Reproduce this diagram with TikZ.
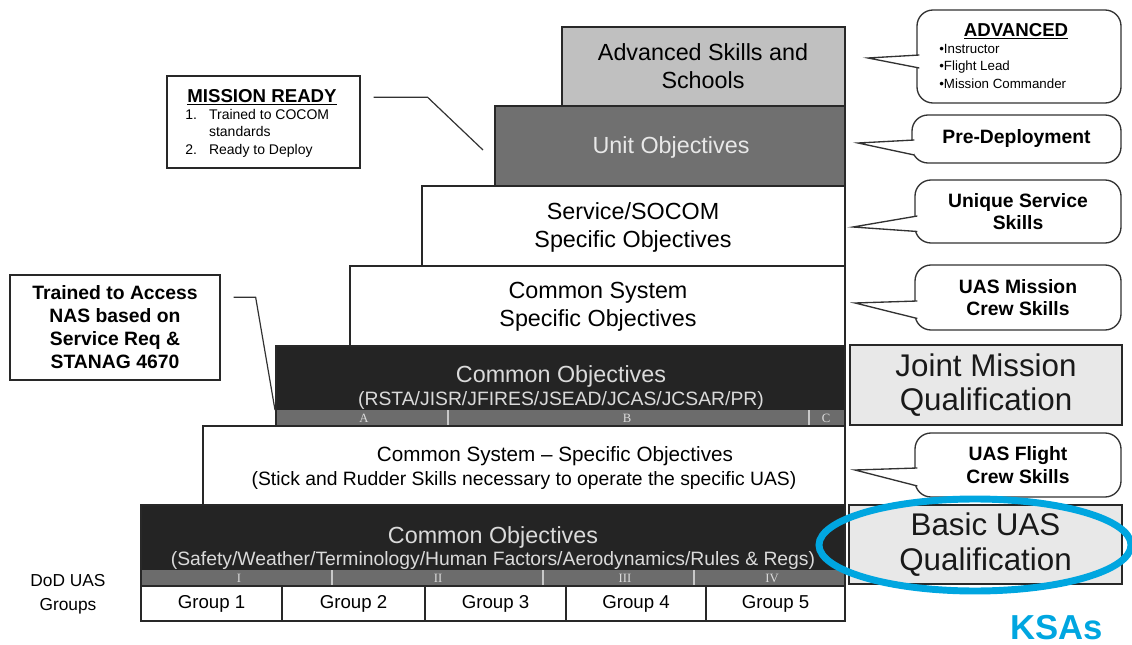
\documentclass[tikz,border=0pt]{standalone}
\usepackage{fontspec}
\setmainfont{Liberation Sans}
\newfontfamily\bandfont{Liberation Serif}
\usetikzlibrary{calc}
\definecolor{ksaBlue}{RGB}{0,166,224}

\begin{document}
\begin{tikzpicture}[x=0.75pt,y=0.75pt,yscale=-1,xscale=1,
  stepline/.style={draw={rgb, 255:red, 40; green, 40; blue, 40}, line width=1},
  darkstep/.style={stepline, fill={rgb, 255:red, 36; green, 36; blue, 36}},
  bandfill/.style={fill={rgb, 255:red, 108; green, 108; blue, 108}},
  banddiv/.style={draw={rgb, 255:red, 200; green, 200; blue, 200}, line width=0.8},
  bigtxt/.style={inner sep=0.75pt, align=center, font=\fontsize{17.5}{21}\selectfont},
  subtxt/.style={inner sep=0.75pt, font=\fontsize{14.5}{17}\selectfont},
  lighttxt/.style={text={rgb, 255:red, 218; green, 218; blue, 218}},
  bandtxt/.style={inner sep=0.75pt, text={rgb, 255:red, 220; green, 220; blue, 220}, font=\bandfont\fontsize{9.5}{10}\selectfont},
  grouptxt/.style={inner sep=0.75pt, font=\fontsize{14}{16}\selectfont},
  callbox/.style={draw={rgb, 255:red, 50; green, 50; blue, 50}, line width=1, fill=white, rounded corners=12pt, inner sep=0pt},
  calltail/.style={draw={rgb, 255:red, 50; green, 50; blue, 50}, line width=1, fill=white},
  calltxt/.style={align=center, font=\fontsize{14.5}{17}\selectfont\bfseries},
  qualbox/.style={draw={rgb, 255:red, 40; green, 40; blue, 40}, line width=1, fill={rgb, 255:red, 232; green, 232; blue, 232}, align=center, inner sep=0pt, font=\fontsize{23.5}{26}\selectfont, text={rgb, 255:red, 25; green, 25; blue, 25}},
  notebox/.style={draw={rgb, 255:red, 40; green, 40; blue, 40}, line width=1, inner sep=0pt},
  leader/.style={draw={rgb, 255:red, 50; green, 50; blue, 50}, line width=0.9}
]
\useasboundingbox (0,0) rectangle (1132,645);

%Shape: Rectangle -- advanced skills
\draw [stepline, fill={rgb, 255:red, 192; green, 192; blue, 192}] (562,27) rectangle (845,106);
%Shape: Rectangle -- unit objectives
\draw [stepline, fill={rgb, 255:red, 112; green, 112; blue, 112}] (495,106) rectangle (845,186);
%Shape: Rectangle -- service
\draw [stepline, fill=white] (422,186) rectangle (845,266);
%Shape: Rectangle -- common system
\draw [stepline, fill=white] (350,266) rectangle (845,346);
%Shape: Rectangle -- joint common objectives
\draw [darkstep] (276,346) rectangle (845,426);
\fill [bandfill] (277,410) rectangle (844,425.5);
\draw [banddiv] (448,410) -- (448,426) (809,410) -- (809,426);
%Shape: Rectangle -- stick and rudder
\draw [stepline, fill=white] (203,426) rectangle (845,505);
%Shape: Rectangle -- basic common objectives
\draw [darkstep] (141,505) rectangle (845,586);
\fill [bandfill] (142,570) rectangle (844,585.5);
\foreach \x in {332,543,694} \draw [banddiv] (\x,570) -- (\x,586);
%Shape: Rectangle -- groups
\draw [stepline, fill=white] (141,586) rectangle (845,621);
\foreach \x in {282,425,566,706} \draw [stepline] (\x,586) -- (\x,621);

% Text Node
\draw (703,66) node (advTxt) [bigtxt] {Advanced Skills and\\Schools};
% Text Node
\draw (671,147) node (unitTxt) [bigtxt, text={rgb, 255:red, 232; green, 232; blue, 232}] {Unit Objectives};
% Text Node
\draw (633,227) node (servTxt) [bigtxt] {Service/SOCOM\\Specific Objectives};
% Text Node
\draw (598,307) node (cssTxt) [bigtxt] {Common System\\Specific Objectives};
% Text Node
\draw (561,376) node (jointObj) [bigtxt, lighttxt] {Common Objectives};
\draw (561,400) node (jointSub) [subtxt, lighttxt] {(RSTA/JISR/JFIRES/JSEAD/JCAS/JCSAR/PR)};
\foreach \bx/\bn in {364/A,627/B,826/C} \draw (\bx,418) node (band\bn) [bandtxt] {\bn};
% Text Node
\draw (555,456) node (rudTxt) [bigtxt, font=\fontsize{15.5}{18}\selectfont] {Common System – Specific Objectives};
\draw (524,481) node (rudSub) [subtxt] {(Stick and Rudder Skills necessary to operate the specific UAS)};
% Text Node
\draw (493,537) node (basicObj) [bigtxt, lighttxt] {Common Objectives};
\draw (493,560) node (basicSub) [subtxt, lighttxt] {(Safety/Weather/Terminology/Human Factors/Aerodynamics/Rules \& Regs)};
\foreach \rx/\rn in {239/I,438/II,625/III,772/IV} \draw (\rx,578) node (band\rn) [bandtxt] {\rn};
% Text Node
\foreach \gx [count=\gi] in {211.5,353.5,495.5,636,775.5} \draw (\gx,604) node (grp\gi) [grouptxt] {Group \gi};
\draw (68,594) node (dodTxt) [inner sep=0.75pt, align=center, font=\fontsize{13}{18}\selectfont] {DoD UAS\\Groups};

%Callouts
\draw (1019,56.5) node (advCall) [callbox, minimum width=153pt, minimum height=69.75pt] {};
\draw [calltail] ($(advCall.west)+(3,-1.5)$) -- (868,58) -- ($(advCall.west)+(3,11.5)$);
\draw (1016,31) node (advHead) [inner sep=0.75pt, font=\fontsize{14}{16}\selectfont\bfseries] {\underline{ADVANCED}};
\draw (938,43) node (advList) [anchor=north west, inner sep=0.75pt, align=left, font=\fontsize{10}{13}\selectfont] {•Instructor\\•Flight Lead\\•Mission Commander};

\draw (1016.5,139) node (preCall) [callbox, calltxt, minimum width=156.75pt, minimum height=36pt] {Pre-Deployment};
\draw [calltail] ($(preCall.west)+(3,1)$) -- (858,143) -- ($(preCall.west)+(3,16)$);

\draw (1018,211.5) node (uniqCall) [callbox, calltxt, minimum width=154.5pt, minimum height=47.25pt] {Unique Service\\Skills};
\draw [calltail] ($(uniqCall.west)+(3,4.5)$) -- (853,227) -- ($(uniqCall.west)+(3,20)$);

\draw (1018,297.5) node (missCall) [callbox, calltxt, minimum width=154.5pt, minimum height=48.75pt] {UAS Mission\\Crew Skills};
\draw [calltail] ($(missCall.west)+(3,3.5)$) -- (855,303) -- ($(missCall.west)+(3,21)$);

\draw (1018,465) node (flightCall) [callbox, calltxt, minimum width=154.5pt, minimum height=48pt] {UAS Flight\\Crew Skills};
\draw [calltail] ($(flightCall.west)+(3,3)$) -- (855,470) -- ($(flightCall.west)+(3,21)$);

%Qualification boxes
\draw (986,385) node (jointQual) [qualbox, minimum width=204pt, minimum height=60pt] {Joint Mission\\Qualification};
\draw (985.5,544.5) node (basicQual) [qualbox, minimum width=204.75pt, minimum height=59.25pt] {Basic UAS\\Qualification};
\draw [ksaBlue, line width=5.2] (975,545) ellipse [x radius=156, y radius=46];
\draw (1057,628) node (ksaTxt) [inner sep=0.75pt, text=ksaBlue, font=\fontsize{26}{30}\selectfont\bfseries] {KSAs};

%Note boxes
\draw (263.5,122) node (missionBox) [notebox, minimum width=144.75pt, minimum height=69pt] {};
\draw (262,97) node (missionHead) [inner sep=0.75pt, font=\fontsize{14}{16}\selectfont\bfseries] {\underline{MISSION READY}};
\draw (184,108) node (missionList) [anchor=north west, inner sep=0.75pt, align=left, font=\fontsize{10.5}{13}\selectfont] {\makebox[1.7em][l]{1.}Trained to COCOM\\\hspace*{1.7em}standards\\\makebox[1.7em][l]{2.}Ready to Deploy};

\draw (115,327.5) node (nasBox) [notebox, minimum width=157.5pt, minimum height=78.75pt, align=center, font=\fontsize{14.5}{17.25}\selectfont\bfseries] {\raisebox{-3pt}{\parbox{150pt}{\centering Trained to Access\\NAS based on\\Service Req \&\\STANAG 4670}}};

%Straight Lines
\coordinate (unitEnd) at (483,150);
\coordinate (bandEnd) at (275,410);
\draw [leader] ($(missionBox.north east)+(13,22)$) -- ++(54,0) -- (unitEnd);
\draw [leader] ($(nasBox.north east)+(13,23)$) -- ++(22,0) -- (bandEnd);

\end{tikzpicture}
\end{document}
